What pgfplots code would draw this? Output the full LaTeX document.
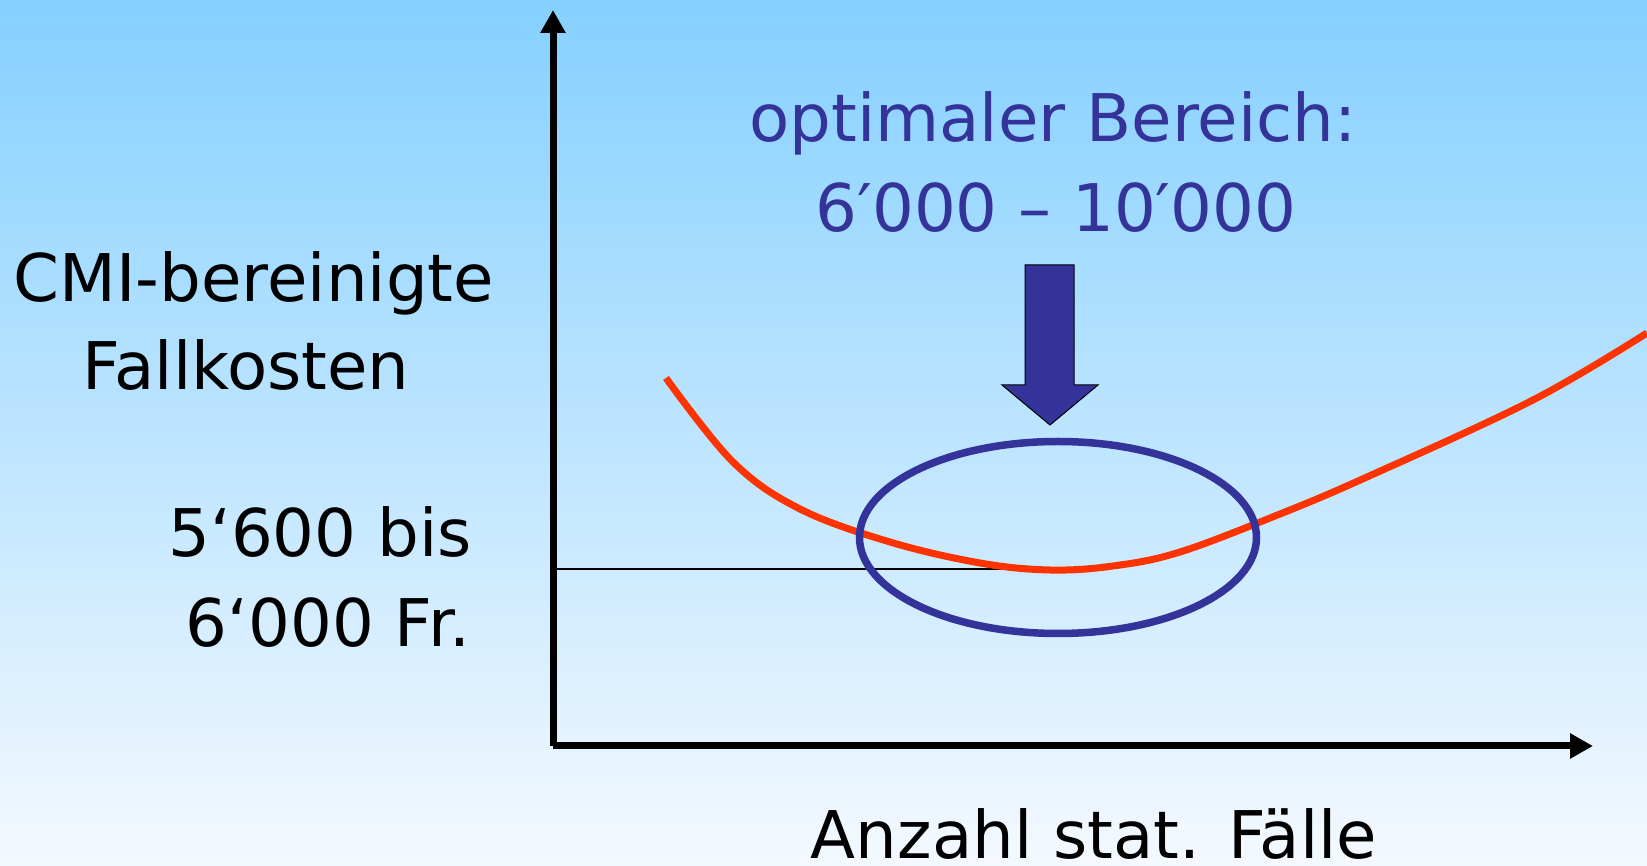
\documentclass[border=0pt]{standalone}
\usepackage{fontspec}
\setmainfont{DejaVu Sans}
\usepackage{pgfplots}
\pgfplotsset{compat=1.18}
\usetikzlibrary{arrows.meta}
\definecolor{bgtop}{RGB}{133,208,255}
\definecolor{bgbot}{RGB}{244,249,255}
\definecolor{navy}{RGB}{51,51,153}
\definecolor{curvered}{RGB}{255,51,0}
\begin{document}
\begin{tikzpicture}
\useasboundingbox (0,0) rectangle (1647bp,866bp);
\clip (0,0) rectangle (1647bp,866bp);
\shade[top color=bgtop, bottom color=bgbot] (0,0) rectangle (1647bp,866bp);
\begin{axis}[
  at={(553bp,120bp)}, anchor=south west, scale only axis,
  width=1040bp, height=736bp,
  xmin=553, xmax=1593, ymin=120, ymax=856,
  axis lines=left, xtick=\empty, ytick=\empty,
  axis line style={line width=7bp, -{Triangle[length=23bp,width=24bp]}},
  clip=false,
]
% reference level
\addplot[black, line width=1.5bp] coordinates {(553,297) (1050,297)};
% cost curve
\addplot[curvered, line width=7bp, smooth, tension=0.6] coordinates {
(666,488) (733,404) (800,357) (890,324) (980,303) (1050,296)
(1113,300) (1180,314) (1280,352) (1367,389) (1533,466) (1647,533)
};
% optimal range ellipse
\draw[navy, line width=7.5bp] (axis cs:1058,328.5) ellipse [x radius=198.5bp, y radius=96bp];
% block arrow
\filldraw[fill=navy, draw=black, line width=1bp]
 (axis cs:1025,601) -- (axis cs:1074,601) -- (axis cs:1074,481) -- (axis cs:1098,481)
 -- (axis cs:1050,441) -- (axis cs:1002,481) -- (axis cs:1025,481) -- cycle;
\end{axis}
\fontsize{66}{78}\selectfont
\node[anchor=base, inner sep=0, text=navy] at (1053bp,724bp) {optimaler Bereich:};
\node[anchor=base, inner sep=0, text=navy] at (1056bp,634bp) {6′000 – 10′000};
\node[anchor=base, inner sep=0] at (254bp,564bp) {CMI-bereinigte};
\node[anchor=base, inner sep=0] at (246bp,476bp) {Fallkosten};
\node[anchor=base, inner sep=0] at (320bp,309bp) {5‘600 bis};
\node[anchor=base, inner sep=0] at (328bp,219bp) {6‘000 Fr.};
\node[anchor=base, inner sep=0] at (1094bp,8bp) {Anzahl stat. Fälle};
\end{tikzpicture}
\end{document}
